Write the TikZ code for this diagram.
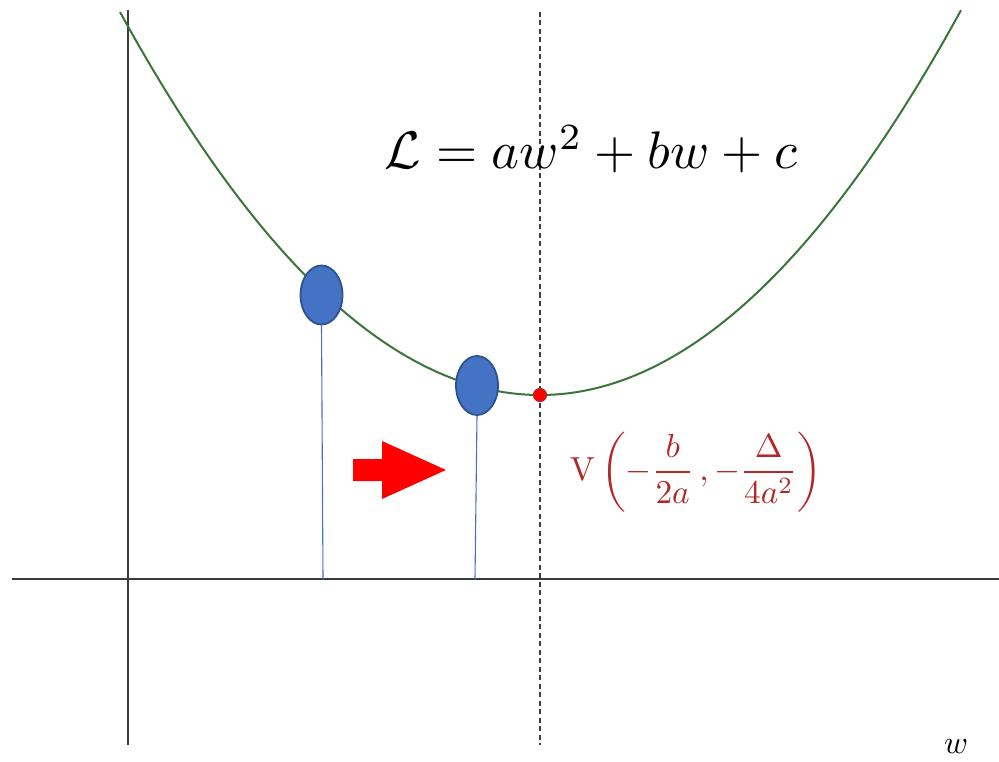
\documentclass[tikz,border=0pt]{standalone}
\usepackage{amsmath}
\usetikzlibrary{shapes.geometric}
\definecolor{curvegreen}{RGB}{58,118,58}
\definecolor{ballfill}{RGB}{68,114,196}
\definecolor{balledge}{RGB}{47,82,143}
\definecolor{vred}{RGB}{178,40,40}
\definecolor{axisgray}{RGB}{60,60,60}
\tikzset{
  axisline/.style={axisgray, line width=1.5pt},
  dashline/.style={axisgray, line width=1.6pt, dash pattern=on 5pt off 3.5pt},
  curveline/.style={curvegreen, line width=2pt},
  ball/.style={ellipse, draw=balledge, line width=1.8pt, fill=ballfill, minimum width=42pt, minimum height=59pt, inner sep=0pt},
  dropline/.style={ballfill, line width=1.1pt},
  vertexdot/.style={circle, fill=red, draw=vred, line width=1.2pt, minimum size=13pt, inner sep=0pt},
}
\begin{document}
\begin{tikzpicture}[x=1pt, y=-1pt]
\useasboundingbox (0,0) rectangle (999,762);
% axes
\coordinate (yt) at (128,10);
\coordinate (yb) at (128,745);
\coordinate (xl) at (12,579);
\coordinate (xr) at (999,579);
\draw[axisline] (yt) -- (yb);
\draw[axisline] (xl) -- (xr);
% dashed symmetry line
\coordinate (dt) at (540,12);
\coordinate (db) at (540,745);
\draw[dashline] (dt) -- (db);
% parabola
\draw[curveline] plot[domain=120:961, samples=200] (\x, {395 - 383*((\x-540)/420)^2});
% vertex
\node[vertexdot] (v) at (540,395) {};
% balls and drop lines
\node[ball] (b1) at (321.5,295) {};
\node[ball] (b2) at (477,385.5) {};
\coordinate (f1) at (323,579);
\coordinate (f2) at (475,579);
\draw[dropline] (b1.south) -- (f1);
\draw[dropline] (b2.south) -- (f2);
% red arrow
\fill[red] (353,459) -- (382,459) -- (382,441) -- (446,470) -- (382,499) -- (382,481) -- (353,481) -- cycle;
% labels
\node[anchor=center] (eq) at (591,149) {\resizebox{412pt}{!}{$\mathcal{L}=aw^{2}+bw+c$}};
\node[anchor=center, text=vred] (vl) at (696,472) {\resizebox{252pt}{!}{$\mathrm{V}\left(-\dfrac{b}{2a}\,,-\dfrac{\Delta}{4a^{2}}\right)$}};
\node[anchor=center] (wl) at (956,747) {\resizebox{24pt}{!}{$w$}};
\end{tikzpicture}
\end{document}
